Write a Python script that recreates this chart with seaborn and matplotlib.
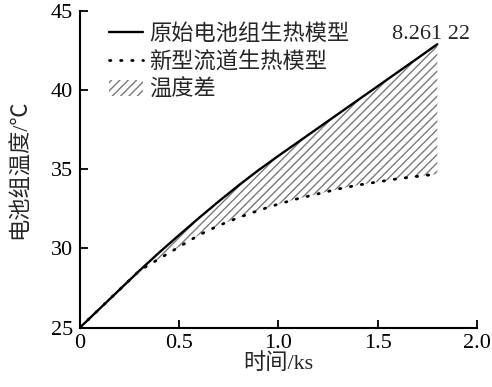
import pandas as pd
import seaborn as sns
import matplotlib.pyplot as plt

# time in ks
time_ks = [0.0, 0.1, 0.2, 0.3, 0.4, 0.5, 0.6, 0.7, 0.8, 0.9,
           1.0, 1.1, 1.2, 1.3, 1.4, 1.5, 1.6, 1.7, 1.8]
# temperature of original battery pack model
temp_original = [25.0, 26.2, 27.4, 28.6, 29.75, 30.85, 31.93, 32.98, 33.99, 34.95,
                 35.85, 36.73, 37.61, 38.49, 39.37, 40.25, 41.13, 42.01, 42.9]
# temperature of new flow-channel model
temp_new = [25.0, 26.2, 27.4, 28.6, 29.35, 30.1, 30.85, 31.45, 31.95, 32.4,
            32.8, 33.15, 33.45, 33.75, 34.0, 34.2, 34.4, 34.55, 34.7]

labels = ["原始电池组生热模型", "新型流道生热模型", "温度差"]
x_ticks = [0, 0.5, 1.0, 1.5, 2.0]
x_ticklabels = ["0", "0.5", "1.0", "1.5", "2.0"]
y_ticks = [25, 30, 35, 40, 45]
note = "8.261 22"

df = pd.DataFrame({"t": time_ks, "orig": temp_original, "new": temp_new})

sns.set_style("ticks")
plt.rcParams['font.family'] = ['Liberation Serif', 'Noto Sans CJK SC']
plt.rcParams['hatch.linewidth'] = 1.0

fig = plt.figure(figsize=(4.92, 3.87), dpi=100)
ax = fig.add_axes([0.1626, 0.1537, 0.8069, 0.8179])

sns.lineplot(data=df, x="t", y="orig", ax=ax, color="black", lw=1.7,
             label=labels[0])
sns.lineplot(data=df, x="t", y="new", ax=ax, color="black", lw=2.0,
             linestyle=(0, (0.5, 3.5)), dash_capstyle="round", label=labels[1])
ax.fill_between(df["t"], df["new"], df["orig"], facecolor="none",
                edgecolor="#7a7a7a", hatch="////", lw=0, label=labels[2])

ax.set_xlim(0, 2.0)
ax.set_ylim(25, 45)
ax.set_xticks(x_ticks)
ax.set_xticklabels(x_ticklabels)
ax.set_yticks(y_ticks)
ax.tick_params(direction="in", length=6, width=1.3, labelsize=16, pad=5,
               colors="black")
ax.tick_params(axis="x", pad=5)
for side in ["left", "bottom"]:
    ax.spines[side].set_linewidth(1.5)
    ax.spines[side].set_color("black")
sns.despine(ax=ax)

ax.set_xlabel("时间/ks", fontsize=16, labelpad=0)
ax.set_ylabel("电池组温度/℃", fontsize=16, labelpad=14)

ax.text(1.768, 43.25, note, fontsize=16, ha="center", va="baseline")

leg = ax.legend(loc="upper left", bbox_to_anchor=(0.04, 1.0), frameon=False,
                fontsize=16, handlelength=1.5, handletextpad=0.3,
                labelspacing=0.3, borderaxespad=0.2)

fig.savefig("out.png", dpi=100)
